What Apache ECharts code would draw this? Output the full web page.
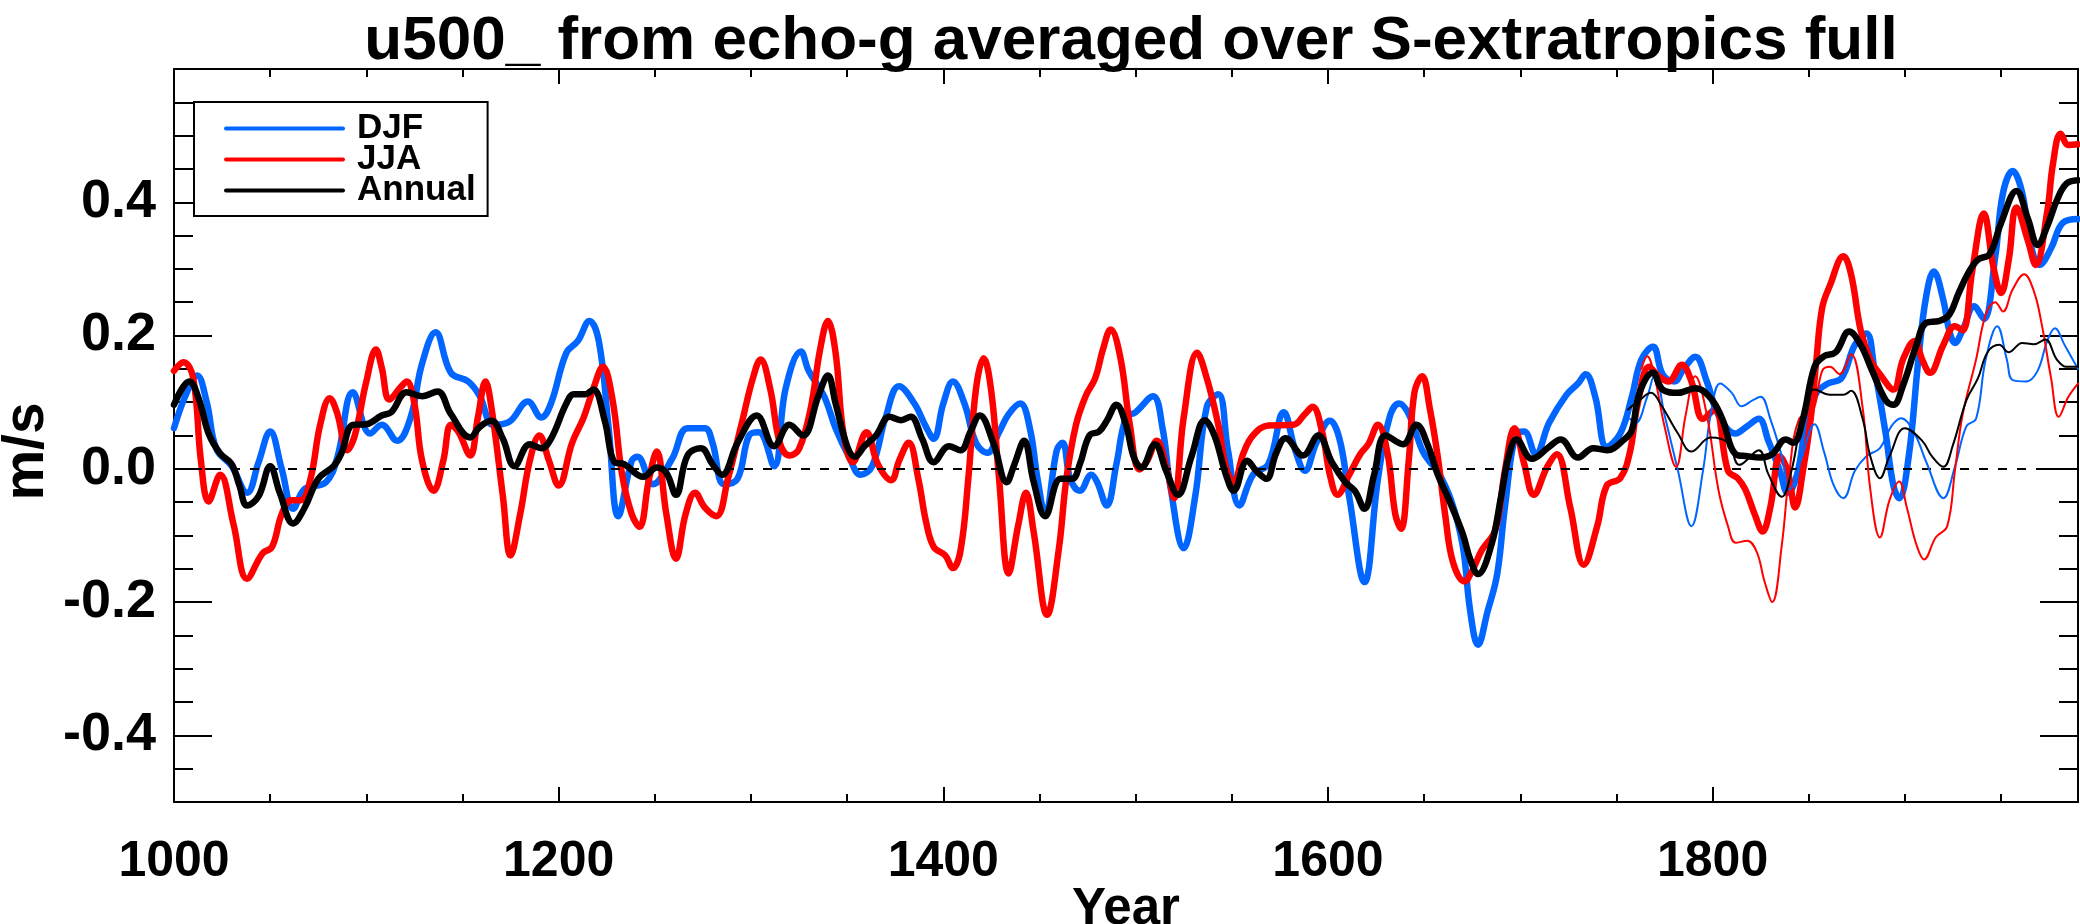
<!DOCTYPE html>
<html><head><meta charset="utf-8">
<script src="https://cdn.jsdelivr.net/npm/echarts@6/dist/echarts.min.js"></script>
<style>html,body{margin:0;padding:0;background:#fff}#c{width:2080px;height:924px}</style>
</head><body><div id="c"></div>
<script>
// ---- data ----
const djfYears = [1000,1006,1012,1017,1022,1030,1038,1044,1050,1056,1062,1068,1079,1085,1093,1102,1108,1116,1123,1129,1136,1144,1153,1159,1166,1174,1184,1191,1196,1204,1210,1216,1221,1226,1231,1238,1241,1249,1259,1267,1276,1280,1286,1293,1299,1304,1312,1318,1326,1330,1338,1344,1351,1357,1363,1370,1377,1385,1391,1395,1400,1405,1411,1417,1423,1429,1434,1440,1445,1449,1453,1459,1462,1466,1471,1477,1480,1485,1490,1495,1500,1509,1514,1518,1525,1531,1537,1543,1548,1554,1561,1569,1577,1583,1588,1594,1601,1606,1611,1619,1626,1632,1637,1642,1649,1653,1657,1664,1670,1674,1678,1683,1688,1692,1698,1702,1708,1715,1724,1730,1734,1739,1745,1752,1758,1763,1769,1774,1780,1785,1791,1797,1803,1812,1818,1824,1829,1835,1839,1844,1849,1854,1860,1867,1874,1880,1884,1890,1894,1897,1902,1907,1911,1915,1920,1923,1926,1930,1936,1941,1947,1951,1956,1961,1965,1970,1976,1982,1990];
const djfValues = [0.061,0.11,0.14,0.10,0.03,0.004,-0.036,0.01,0.056,0.0,-0.06,-0.03,-0.02,0.018,0.115,0.053,0.066,0.042,0.077,0.158,0.205,0.144,0.131,0.109,0.066,0.07,0.101,0.077,0.098,0.174,0.192,0.222,0.19,0.061,-0.071,0.012,0.018,-0.023,0.015,0.061,0.061,0.039,-0.023,-0.015,0.05,0.055,0.004,0.12,0.176,0.147,0.109,0.061,0.018,-0.009,0.004,0.077,0.124,0.098,0.063,0.045,0.098,0.131,0.098,0.039,0.024,0.055,0.082,0.098,0.061,-0.015,-0.068,0.028,0.039,-0.015,-0.033,-0.009,-0.02,-0.055,0.007,0.077,0.085,0.109,0.061,-0.025,-0.119,-0.041,0.093,0.112,0.028,-0.055,-0.009,0.007,0.085,0.028,-0.003,0.039,0.072,0.045,-0.041,-0.17,-0.015,0.077,0.098,0.082,0.028,0.01,-0.003,-0.047,-0.114,-0.214,-0.264,-0.214,-0.158,-0.058,0.053,0.056,0.022,0.069,0.111,0.128,0.142,0.108,0.033,0.053,0.108,0.164,0.183,0.142,0.131,0.15,0.168,0.131,0.081,0.053,0.064,0.075,0.042,-0.003,-0.036,-0.008,0.075,0.114,0.128,0.136,0.186,0.203,0.153,0.053,-0.025,-0.044,0.019,0.164,0.258,0.296,0.253,0.208,0.189,0.208,0.244,0.225,0.319,0.414,0.447,0.414,0.342,0.306,0.331,0.369,0.375];

const jjaYears = [1000,1005,1010,1014,1018,1024,1031,1038,1046,1051,1056,1061,1066,1071,1076,1081,1085,1090,1094,1100,1105,1108,1112,1118,1121,1125,1129,1135,1140,1144,1148,1154,1158,1162,1165,1171,1175,1180,1185,1190,1195,1200,1207,1213,1218,1223,1228,1233,1238,1242,1247,1251,1256,1261,1266,1271,1276,1282,1288,1295,1301,1305,1310,1315,1320,1325,1331,1336,1340,1344,1348,1353,1360,1366,1373,1377,1382,1387,1391,1395,1401,1405,1409,1413,1417,1421,1425,1429,1434,1439,1443,1447,1454,1460,1464,1469,1474,1479,1483,1487,1492,1497,1502,1506,1511,1516,1520,1525,1532,1537,1543,1547,1551,1556,1561,1569,1582,1588,1592,1597,1601,1605,1611,1617,1621,1626,1631,1635,1638,1642,1645,1649,1653,1657,1661,1665,1671,1675,1680,1687,1692,1697,1702,1707,1714,1719,1726,1733,1740,1745,1752,1757,1761,1767,1772,1777,1784,1789,1795,1801,1808,1813,1817,1822,1826,1830,1835,1839,1843,1847,1851,1854,1857,1861,1868,1872,1877,1882,1887,1894,1899,1905,1909,1913,1920,1926,1930,1935,1941,1946,1950,1954,1958,1964,1968,1974,1977,1981,1985,1990];
const jjaValues = [0.147,0.16,0.136,0.012,-0.049,-0.009,-0.084,-0.165,-0.127,-0.117,-0.068,-0.047,-0.047,-0.015,0.066,0.106,0.082,0.028,0.05,0.131,0.179,0.152,0.104,0.123,0.131,0.098,0.012,-0.033,0.012,0.066,0.055,0.02,0.077,0.131,0.093,-0.041,-0.13,-0.068,0.012,0.05,0.012,-0.025,0.039,0.077,0.12,0.153,0.104,-0.009,-0.068,-0.087,-0.015,0.026,-0.068,-0.135,-0.068,-0.036,-0.058,-0.071,-0.015,0.066,0.136,0.164,0.12,0.039,0.02,0.03,0.09,0.18,0.222,0.174,0.055,0.01,0.055,0.007,-0.017,0.012,0.039,-0.015,-0.079,-0.117,-0.13,-0.149,-0.122,-0.015,0.12,0.166,0.115,-0.015,-0.157,-0.084,-0.036,-0.095,-0.219,-0.122,-0.015,0.066,0.109,0.136,0.179,0.209,0.168,0.066,-0.001,0.012,0.042,0.002,-0.044,0.077,0.174,0.136,0.066,0.002,-0.02,0.023,0.05,0.065,0.066,0.082,0.093,0.055,-0.009,-0.039,-0.009,0.023,0.037,0.066,0.023,-0.068,-0.09,0.012,0.115,0.139,0.09,0.02,-0.07,-0.14,-0.169,-0.153,-0.122,-0.092,-0.003,0.061,0.008,-0.039,0.003,0.022,-0.058,-0.144,-0.086,-0.025,-0.014,0.025,0.097,0.153,0.139,0.131,0.156,0.131,0.075,0.089,-0.003,-0.014,-0.031,-0.069,-0.094,-0.058,0.019,-0.003,-0.058,-0.003,0.075,0.164,0.242,0.275,0.319,0.292,0.208,0.164,0.142,0.119,0.164,0.192,0.164,0.144,0.186,0.214,0.208,0.297,0.383,0.303,0.264,0.314,0.392,0.342,0.306,0.386,0.458,0.503,0.486,0.487];

const annYears = [1000,1008,1013,1018,1024,1030,1034,1038,1044,1050,1055,1062,1068,1075,1083,1087,1093,1100,1108,1113,1121,1129,1137,1144,1154,1159,1165,1171,1177,1185,1191,1196,1204,1208,1214,1218,1224,1229,1234,1244,1251,1256,1261,1267,1274,1280,1285,1293,1303,1312,1320,1327,1335,1340,1344,1350,1354,1359,1365,1372,1378,1383,1389,1395,1403,1409,1414,1419,1426,1433,1437,1442,1447,1453,1461,1467,1471,1476,1481,1485,1490,1495,1499,1503,1510,1516,1522,1529,1536,1541,1547,1551,1558,1563,1568,1573,1578,1587,1595,1602,1609,1614,1619,1624,1630,1639,1646,1652,1657,1663,1670,1674,1678,1685,1690,1694,1698,1706,1715,1721,1730,1738,1745,1754,1758,1762,1769,1774,1782,1791,1799,1805,1812,1818,1825,1831,1838,1842,1847,1853,1858,1864,1871,1877,1883,1890,1894,1899,1906,1911,1918,1923,1928,1933,1938,1944,1950,1958,1964,1969,1974,1979,1984,1990];
const annValues = [0.096,0.131,0.104,0.053,0.023,0.007,-0.025,-0.055,-0.041,0.004,-0.036,-0.082,-0.058,-0.015,0.004,0.023,0.066,0.067,0.08,0.085,0.115,0.109,0.116,0.082,0.047,0.063,0.072,0.045,0.004,0.037,0.031,0.045,0.098,0.112,0.112,0.119,0.072,0.01,0.007,-0.012,0.002,-0.006,-0.039,0.02,0.031,0.007,-0.009,0.039,0.08,0.034,0.066,0.05,0.109,0.14,0.098,0.034,0.018,0.034,0.05,0.078,0.073,0.078,0.045,0.01,0.034,0.028,0.055,0.08,0.039,-0.02,0.007,0.042,-0.02,-0.071,-0.015,-0.015,0.007,0.05,0.056,0.072,0.096,0.066,0.018,0.002,0.037,-0.004,-0.039,0.018,0.073,0.05,-0.009,-0.033,0.012,-0.004,-0.015,0.023,0.046,0.02,0.05,0.01,-0.02,-0.033,-0.06,-0.009,0.05,0.037,0.066,0.035,-0.008,-0.047,-0.097,-0.136,-0.158,-0.114,-0.042,0.019,0.044,0.015,0.033,0.044,0.017,0.031,0.028,0.044,0.058,0.114,0.144,0.119,0.114,0.121,0.106,0.075,0.022,0.019,0.017,0.022,0.044,0.039,0.075,0.153,0.169,0.175,0.206,0.186,0.147,0.103,0.096,0.125,0.186,0.219,0.222,0.231,0.264,0.294,0.314,0.322,0.369,0.417,0.375,0.336,0.364,0.403,0.428,0.433];

const djfThinYears = [1757,1760,1766,1770,1775,1782,1789,1795,1799,1804,1810,1815,1821,1825,1830,1836,1840,1846,1853,1858,1863,1868,1874,1880,1887,1893,1898,1905,1911,1920,1926,1932,1937,1942,1948,1953,1956,1963,1969,1974,1978,1983,1990];
const djfThinValues = [0.075,0.069,0.108,0.142,0.081,-0.003,-0.086,-0.003,0.081,0.128,0.114,0.094,0.103,0.108,0.075,0.019,-0.031,0.014,0.067,0.025,-0.025,-0.044,-0.003,0.019,0.031,0.064,0.076,0.053,0.011,-0.044,0.003,0.064,0.075,0.164,0.214,0.164,0.133,0.131,0.147,0.192,0.211,0.186,0.15];

const jjaThinYears = [1763,1766,1770,1775,1781,1786,1791,1797,1803,1808,1812,1818,1823,1827,1831,1836,1840,1845,1852,1857,1861,1866,1872,1878,1882,1887,1892,1897,1901,1906,1910,1916,1922,1926,1930,1937,1942,1947,1951,1956,1962,1967,1971,1976,1980,1985,1990];
const jjaThinValues = [0.15,0.169,0.136,0.064,0.003,0.081,0.139,0.081,-0.031,-0.086,-0.111,-0.108,-0.125,-0.169,-0.2,-0.114,-0.003,0.075,0.086,0.147,0.153,0.142,0.172,0.092,-0.031,-0.103,-0.047,-0.019,-0.058,-0.114,-0.136,-0.103,-0.086,-0.003,0.081,0.164,0.231,0.25,0.236,0.269,0.292,0.267,0.219,0.136,0.078,0.108,0.128];

const annThinYears = [1756,1762,1768,1773,1782,1789,1799,1808,1814,1824,1829,1836,1841,1847,1853,1861,1868,1872,1878,1882,1887,1892,1900,1909,1914,1920,1925,1932,1938,1943,1949,1954,1961,1967,1973,1979,1984,1990];
const annThinValues = [0.089,0.103,0.114,0.097,0.053,0.026,0.047,0.039,0.006,0.028,-0.008,-0.042,-0.003,0.081,0.119,0.111,0.111,0.117,0.075,0.019,-0.014,0.019,0.061,0.042,0.019,0.003,0.036,0.103,0.136,0.175,0.186,0.175,0.189,0.187,0.194,0.164,0.153,0.153];

const xMajorTicks = [1000,1200,1400,1600,1800];
const xMinorTicks = [1050,1100,1150,1250,1300,1350,1450,1500,1550,1650,1700,1750,1850,1900,1950];
const yMajorTicks = [-0.4,-0.2,0.0,0.2,0.4];
const yMinorTicks = [-0.45,-0.35,-0.3,-0.25,-0.15,-0.1,-0.05,0.05,0.1,0.15,0.25,0.3,0.35,0.45,0.5,0.55];

const titleText = 'u500_ from echo-g averaged over S-extratropics full';
const seriesNames = ['DJF','JJA','Annual'];

// ---- chart ----
const FONT = 'Liberation Sans';
const BLUE = '#0066ff', RED = '#ff0000', BLACK = '#000000';
const pairs = (xs, ys) => xs.map((x, i) => [x, ys[i]]);

function xAx(pos, ticks, len, showLine, withLabel) {
  return {
    type: 'value', position: pos, min: 1000, max: 1990, gridIndex: 0,
    axisLine: { show: showLine, onZero: false, lineStyle: { color: BLACK, width: 2 } },
    axisTick: { show: true, inside: true, length: len, customValues: ticks, lineStyle: { color: BLACK, width: 2 } },
    axisLabel: withLabel ? { show: true, customValues: ticks, formatter: v => String(v), fontFamily: FONT, fontWeight: 'bold', fontSize: 50, color: BLACK, margin: 35 } : { show: false },
    splitLine: { show: false },
    name: withLabel ? 'Year' : '', nameLocation: 'middle', nameGap: 82, nameMoveOverlap: false,
    nameTextStyle: { fontFamily: FONT, fontWeight: 'bold', fontSize: 51, color: BLACK }
  };
}
function yAx(pos, ticks, len, showLine, withLabel) {
  return {
    type: 'value', position: pos, min: -0.5, max: 0.6, gridIndex: 0,
    axisLine: { show: showLine, onZero: false, lineStyle: { color: BLACK, width: 2 } },
    axisTick: { show: true, inside: true, length: len, customValues: ticks, lineStyle: { color: BLACK, width: 2 } },
    axisLabel: withLabel ? { show: true, customValues: ticks, formatter: v => v.toFixed(1), fontFamily: FONT, fontWeight: 'bold', fontSize: 54, color: BLACK, margin: 18 } : { show: false },
    splitLine: { show: false },
    name: withLabel ? 'm/s' : '', nameLocation: 'middle', nameGap: 118, nameRotate: 90, nameMoveOverlap: false,
    nameTextStyle: { fontFamily: FONT, fontWeight: 'bold', fontSize: 57, color: BLACK, padding: [0, 32, 0, 0] }
  };
}

function lineSeries(name, xs, ys, color, width, z) {
  return {
    type: 'line', name, data: pairs(xs, ys), xAxisIndex: 0, yAxisIndex: 0,
    showSymbol: false, symbol: 'none', smooth: 0.4, z,
    lineStyle: { color, width, join: 'round', cap: 'round' }, itemStyle: { color },
    emphasis: { disabled: true }
  };
}

const chart = echarts.init(document.getElementById('c'), null, { renderer: 'canvas' });
chart.setOption({
  animation: false,
  backgroundColor: '#ffffff',
  title: {
    text: titleText, left: 1126, top: 6, textAlign: 'center',
    textStyle: { fontFamily: FONT, fontWeight: 'bold', fontSize: 62, color: BLACK }
  },
  grid: { left: 174, right: 2, top: 69, bottom: 122, containLabel: false, outerBoundsMode: 'none' },
  legend: {
    data: seriesNames, orient: 'vertical', left: 194, top: 102,
    padding: [9, 12, 8, 30], itemGap: -4, itemWidth: 117, itemHeight: 20,
    borderColor: BLACK, borderWidth: 2, backgroundColor: '#ffffff',
    lineStyle: { width: 4 },
    textStyle: { fontFamily: FONT, fontWeight: 'bold', fontSize: 35, color: BLACK, lineHeight: 27, padding: [0, 0, 0, 9] },
    itemStyle: { opacity: 0 }, selectedMode: false
  },
  xAxis: [
    xAx('bottom', xMajorTicks, 15, true, true),
    xAx('bottom', xMinorTicks, 8, false, false),
    xAx('top', xMajorTicks, 15, true, false),
    xAx('top', xMinorTicks, 8, false, false)
  ],
  yAxis: [
    yAx('left', yMajorTicks, 38, true, true),
    yAx('left', yMinorTicks, 19, false, false),
    yAx('right', yMajorTicks, 38, true, false),
    yAx('right', yMinorTicks, 19, false, false)
  ],
  series: [
    {
      type: 'line', name: 'zero', data: [], xAxisIndex: 0, yAxisIndex: 0, z: 1,
      markLine: {
        silent: true, symbol: ['none', 'none'], label: { show: false },
        lineStyle: { color: BLACK, width: 2, type: [9, 10] },
        data: [{ yAxis: 0 }]
      }
    },
    lineSeries('DJF', djfYears, djfValues, BLUE, 6.5, 3),
    lineSeries('JJA', jjaYears, jjaValues, RED, 6.5, 4),
    lineSeries('Annual', annYears, annValues, BLACK, 6.5, 6),
    lineSeries('DJF thin', djfThinYears, djfThinValues, BLUE, 2, 5),
    lineSeries('JJA thin', jjaThinYears, jjaThinValues, RED, 2, 5),
    lineSeries('Annual thin', annThinYears, annThinValues, BLACK, 2, 5)
  ]
});
</script>
</body></html>
